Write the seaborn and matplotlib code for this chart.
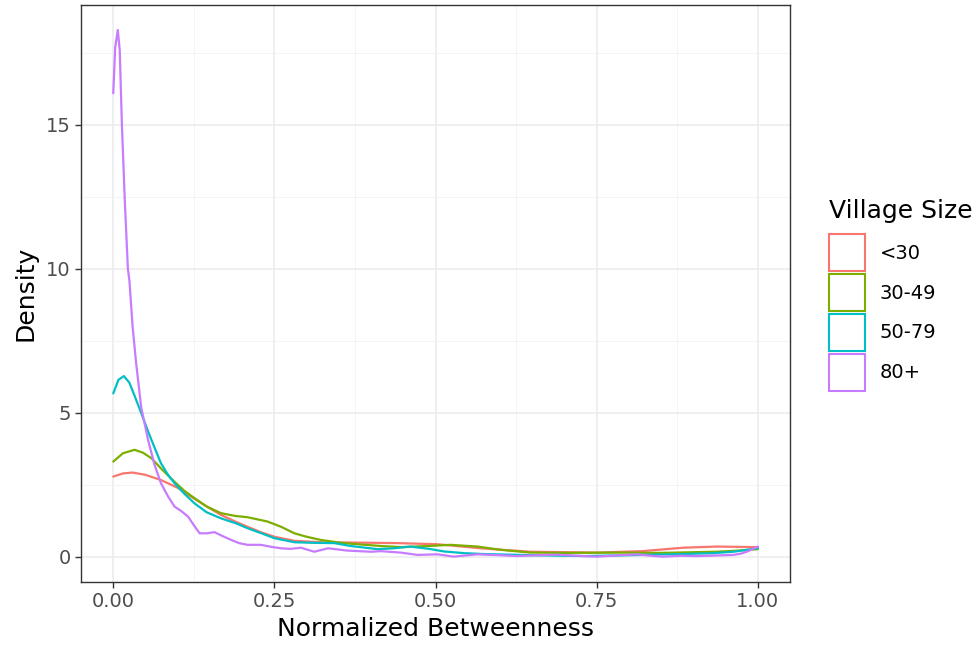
import pandas as pd
import matplotlib
matplotlib.use("Agg")
import matplotlib.pyplot as plt
from matplotlib.patches import Patch
from matplotlib.ticker import MultipleLocator
import seaborn as sns

# ----------------------------------------------------------
# DATA (density curves)
# ----------------------------------------------------------

groups = ["<30", "30-49", "50-79", "80+"]
colors = ["#F8766D", "#7CAE00", "#00BFC4", "#C77CFF"]

x_lt30 = [0, 0.015, 0.03, 0.05, 0.074, 0.1, 0.121, 0.145, 0.167, 0.19, 0.208,
          0.23, 0.25, 0.281, 0.33, 0.368, 0.44, 0.503, 0.57, 0.647, 0.75,
          0.82, 0.884, 0.936, 1.0]
d_lt30 = [2.79, 2.9, 2.93, 2.85, 2.67, 2.4, 2.09, 1.75, 1.46, 1.22, 1.05,
          0.85, 0.70, 0.56, 0.5, 0.50, 0.48, 0.44, 0.30, 0.18, 0.15,
          0.2, 0.32, 0.36, 0.34]

x_30_49 = [0, 0.015, 0.033, 0.046, 0.059, 0.075, 0.095, 0.11, 0.126, 0.145,
           0.167, 0.19, 0.208, 0.239, 0.26, 0.281, 0.30, 0.322, 0.35, 0.368,
           0.415, 0.446, 0.49, 0.523, 0.565, 0.60, 0.647, 0.70, 0.786, 0.85,
           0.936, 0.97, 1.0]
d_30_49 = [3.31, 3.6, 3.72, 3.62, 3.43, 3.05, 2.61, 2.3, 2.04, 1.75,
           1.52, 1.42, 1.38, 1.23, 1.05, 0.82, 0.70, 0.59, 0.5, 0.46,
           0.38, 0.34, 0.38, 0.42, 0.36, 0.25, 0.15, 0.14, 0.15, 0.14,
           0.18, 0.22, 0.27]

x_50_79 = [0, 0.008, 0.0165, 0.025, 0.033, 0.0433, 0.055, 0.064, 0.074, 0.085,
           0.095, 0.11, 0.126, 0.145, 0.167, 0.19, 0.208, 0.23, 0.25, 0.281,
           0.31, 0.343, 0.368, 0.41, 0.435, 0.461, 0.49, 0.513, 0.545, 0.575,
           0.65, 0.73, 0.8, 0.884, 0.93, 0.962, 1.0]
d_50_79 = [5.68, 6.15, 6.28, 6.05, 5.6, 5.0, 4.3, 3.8, 3.25, 2.85,
           2.56, 2.2, 1.86, 1.55, 1.34, 1.17, 1.0, 0.82, 0.65, 0.51,
           0.49, 0.48, 0.38, 0.27, 0.3, 0.36, 0.28, 0.19, 0.13, 0.10,
           0.06, 0.03, 0.06, 0.10, 0.13, 0.18, 0.30]

x_80p = [0, 0.003, 0.007, 0.010, 0.0134, 0.018, 0.0227, 0.025, 0.030, 0.0356,
         0.0433, 0.054, 0.064, 0.074, 0.085, 0.095, 0.105, 0.116, 0.125, 0.134,
         0.145, 0.157, 0.170, 0.183, 0.195, 0.208, 0.229, 0.245, 0.26, 0.275,
         0.291, 0.312, 0.333, 0.363, 0.40, 0.415, 0.446, 0.472, 0.503, 0.528,
         0.565, 0.6, 0.626, 0.66, 0.688, 0.72, 0.75, 0.78, 0.812, 0.835,
         0.853, 0.88, 0.905, 0.935, 0.962, 0.975, 0.985, 1.0]
d_80p = [16.1, 17.7, 18.3, 17.6, 15.0, 12.3, 10.0, 9.6, 8.0, 6.7,
         5.2, 4.06, 3.2, 2.56, 2.1, 1.75, 1.6, 1.40, 1.1, 0.82,
         0.82, 0.86, 0.72, 0.59, 0.48, 0.42, 0.42, 0.35, 0.30, 0.28,
         0.32, 0.18, 0.30, 0.22, 0.18, 0.2, 0.15, 0.07, 0.09, 0.01,
         0.09, 0.06, 0.03, 0.06, 0.08, 0.04, 0.01, 0.05, 0.09, 0.04,
         0.01, 0.04, 0.03, 0.05, 0.07, 0.12, 0.2, 0.36]

frames = []
for g, xs, ds in zip(groups,
                     [x_lt30, x_30_49, x_50_79, x_80p],
                     [d_lt30, d_30_49, d_50_79, d_80p]):
    frames.append(pd.DataFrame({"x": xs, "density": ds, "size": g}))
df = pd.concat(frames, ignore_index=True)

# ----------------------------------------------------------
# PLOT
# ----------------------------------------------------------

sns.set_theme(style="white")
plt.rcParams["font.family"] = ["DejaVu Sans"]
plt.rcParams["text.color"] = "black"

fig = plt.figure(figsize=(9.8, 6.47), dpi=100)
ax = fig.add_axes([0.0827, 0.1005, 0.7235, 0.8915])

palette = dict(zip(groups, colors))
sns.lineplot(data=df, x="x", y="density", hue="size", hue_order=groups,
             palette=palette, estimator=None, sort=False, linewidth=1.6,
             legend=False, ax=ax)

ax.set_xlim(-0.05, 1.05)
ax.set_ylim(-0.87, 19.16)
ax.xaxis.set_minor_locator(MultipleLocator(0.125))
ax.yaxis.set_minor_locator(MultipleLocator(2.5))
ax.set_xticks([0, 0.25, 0.5, 0.75, 1.0])
ax.set_xticklabels(["0.00", "0.25", "0.50", "0.75", "1.00"])
ax.set_yticks([0, 5, 10, 15])
ax.set_yticklabels(["0", "5", "10", "15"])

ax.grid(which="major", color="#EBEBEB", linewidth=1.1)
ax.grid(which="minor", color="#F2F2F2", linewidth=0.6)
ax.set_axisbelow(True)
for s in ax.spines.values():
    s.set_color("#333333")
    s.set_linewidth(1.0)

ax.tick_params(axis="both", which="major", length=4, width=1, color="#333333",
               labelsize=14, labelcolor="#4D4D4D", bottom=True, left=True)
ax.tick_params(axis="both", which="minor", length=0)

ax.set_xlabel("Normalized Betweenness", fontsize=18, color="black", labelpad=4)
ax.set_ylabel("Density", fontsize=18, color="black", labelpad=6)

handles = [Patch(facecolor="white", edgecolor=c, linewidth=1.5) for c in colors]
leg = fig.legend(handles, groups, title="Village Size", loc="upper left",
                 bbox_to_anchor=(0.836, 0.707), frameon=False, fontsize=14,
                 title_fontsize=18, handlelength=1.85, handleheight=2.55,
                 labelspacing=0.14, handletextpad=0.75, borderpad=0)
leg._legend_box.align = "left"
leg._legend_box.sep = 8
for t in leg.get_texts():
    t.set_color("black")
leg.get_title().set_color("black")

fig.savefig("out.png", dpi=100)
